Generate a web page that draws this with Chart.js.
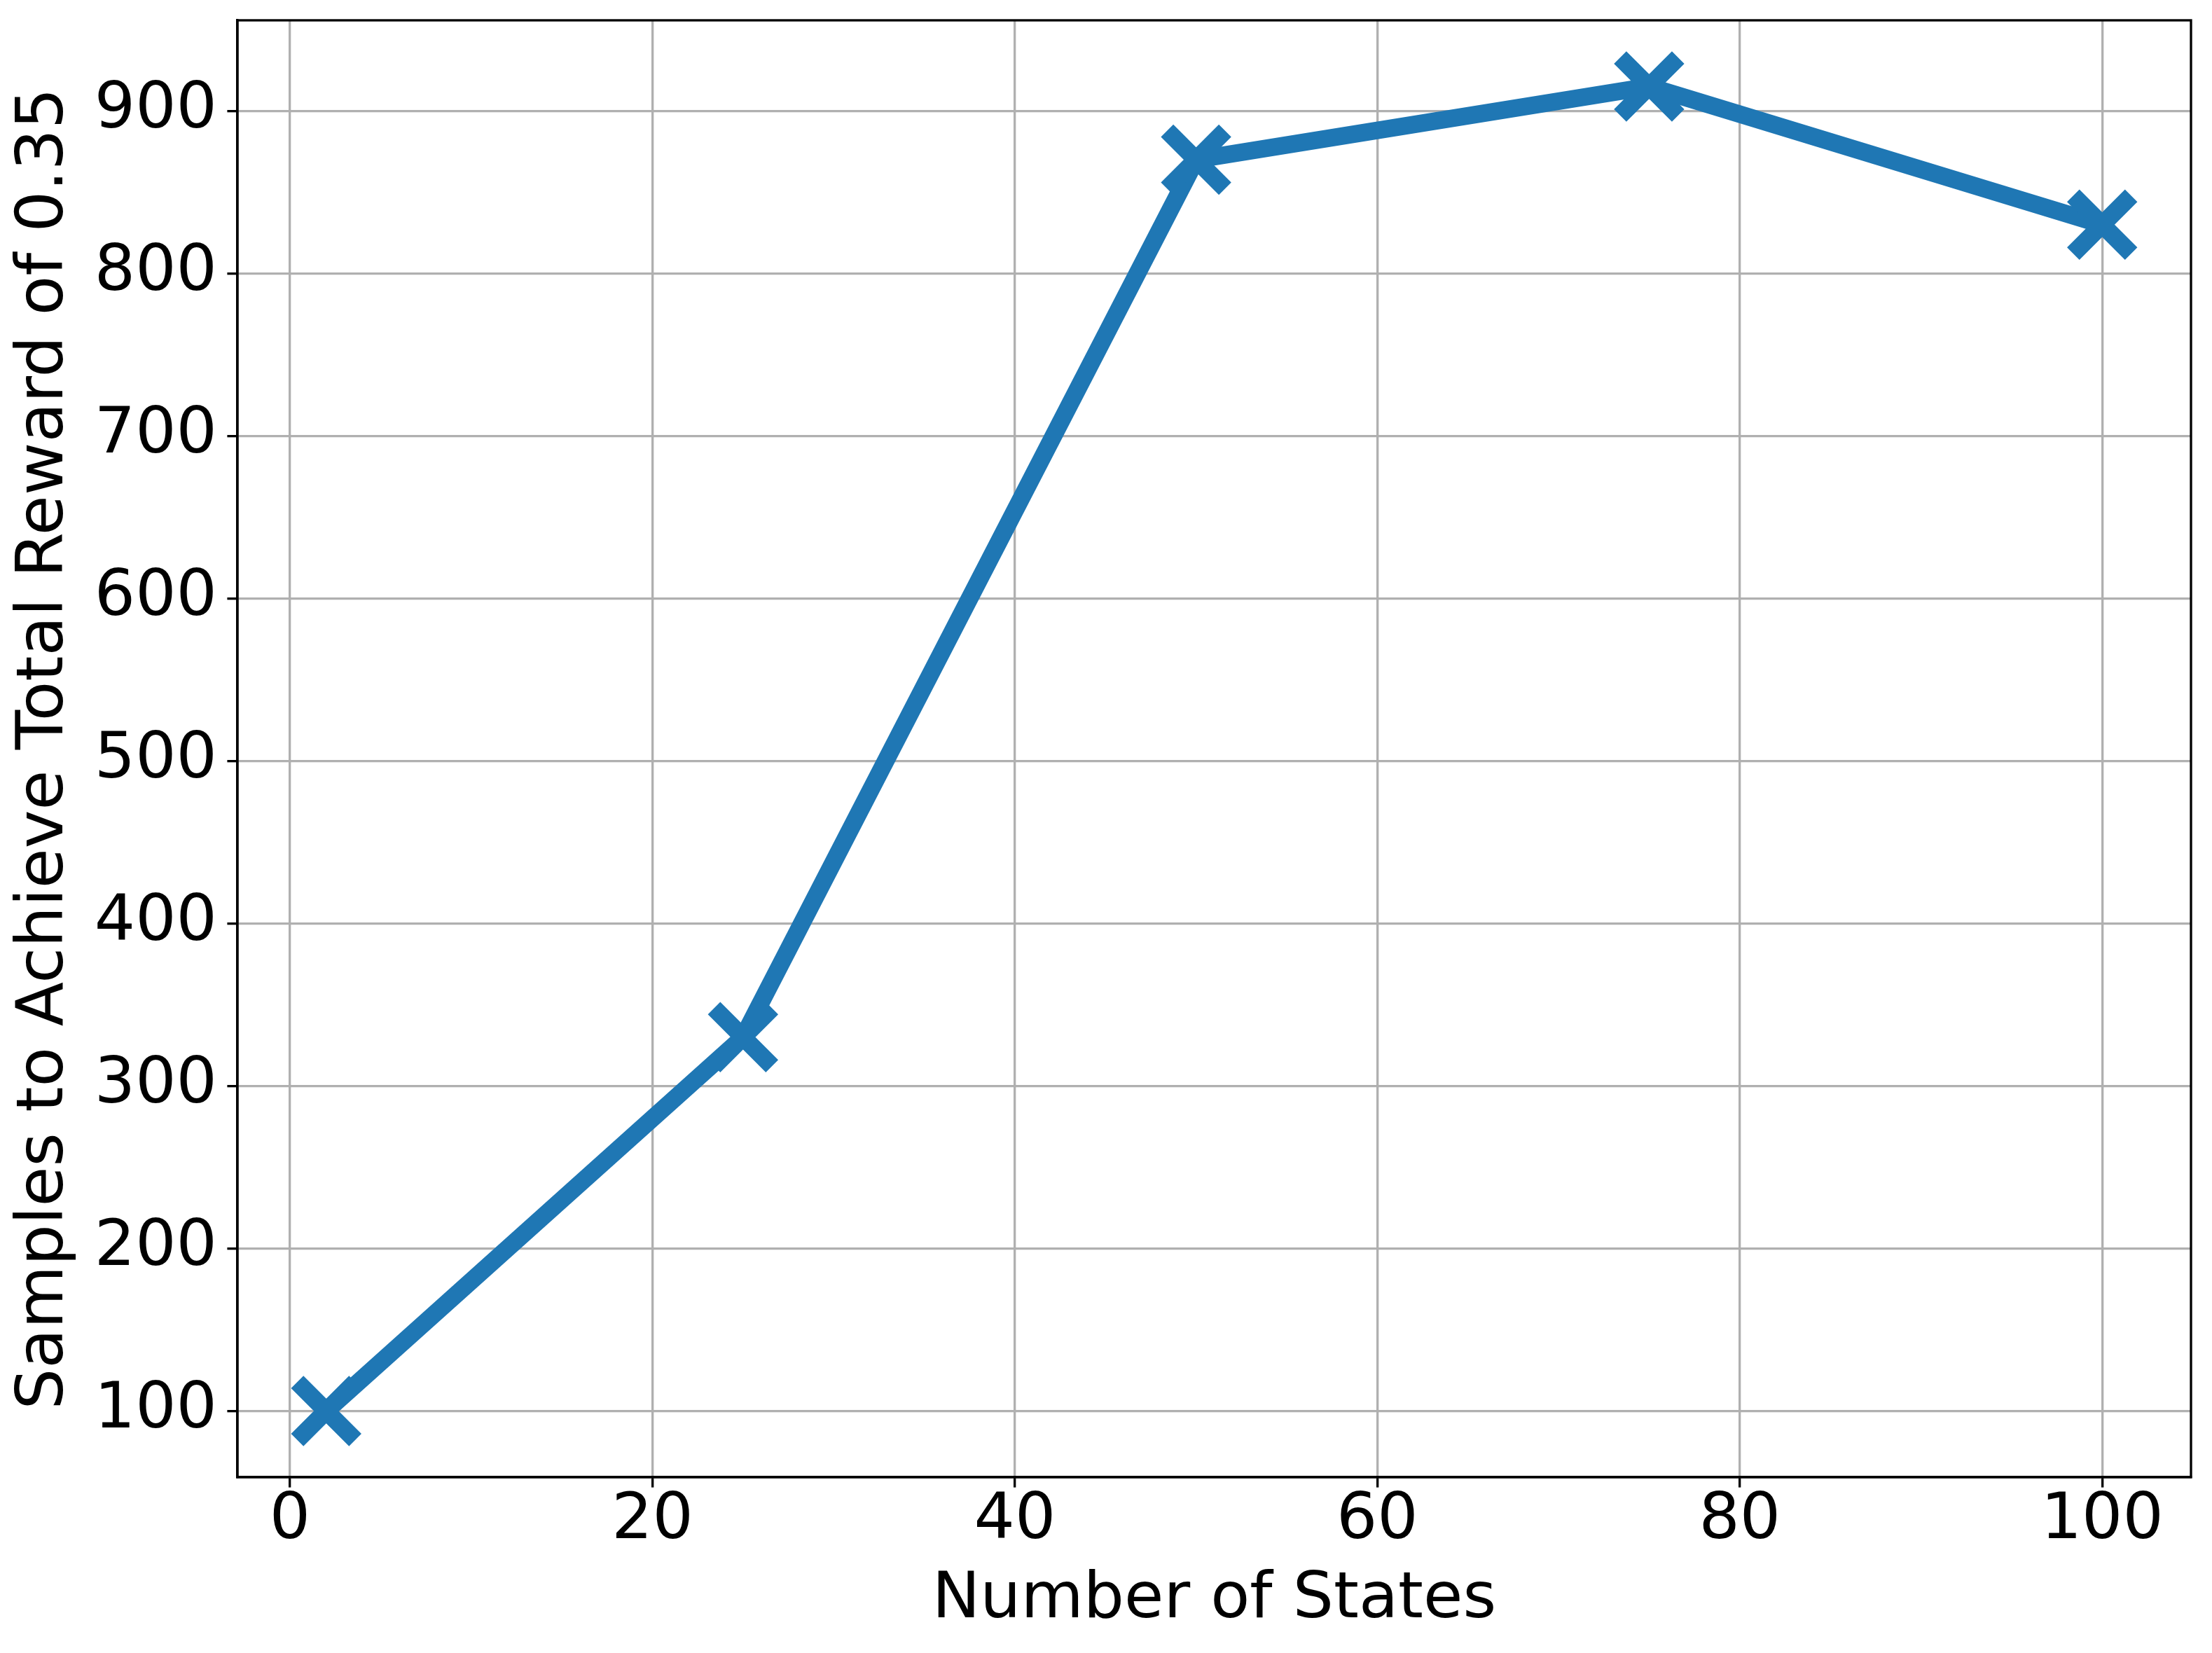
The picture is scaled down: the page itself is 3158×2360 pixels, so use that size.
<!DOCTYPE html>
<html>
<head>
<meta charset="utf-8">
<title>Samples vs Number of States</title>
<script src="https://cdn.jsdelivr.net/npm/chart.js@4/dist/chart.umd.min.js"></script>
<style>
  html, body { margin: 0; padding: 0; background: #ffffff; }
  canvas { display: block; }
</style>
</head>
<body>
<canvas id="grafik" width="3158" height="2360"></canvas>
<script>
// ====== DATA ======
const numStates = [2, 25, 50, 75, 100];
const samplesNeeded = [100, 330, 870, 915, 830];
const xTickLabels = [0, 20, 40, 60, 80, 100];
const yTickLabels = [100, 200, 300, 400, 500, 600, 700, 800, 900];

// ====== STYLE ======
const biru = "#1f77b4";
const abuGrid = "#b0b0b0";
const lebarGaris = 3.33; // 0.8pt @ 300dpi
const fontUtama = { family: "'DejaVu Sans', sans-serif", size: 91.7 };

// kotak sumbu penuh (atas & kanan juga), mirip spine matplotlib
const bingkaiPlugin = {
  id: "bingkai",
  afterDraw(chart) {
    const { ctx, chartArea: a } = chart;
    ctx.save();
    ctx.strokeStyle = "#000000";
    ctx.lineWidth = lebarGaris;
    ctx.strokeRect(a.left, a.top, a.right - a.left, a.bottom - a.top);
    ctx.restore();
  },
};

const ctx = document.getElementById("grafik").getContext("2d");
new Chart(ctx, {
  type: "line",
  data: {
    datasets: [
      {
        data: numStates.map((x, i) => ({ x, y: samplesNeeded[i] })),
        borderColor: biru,
        backgroundColor: biru,
        borderWidth: 25,
        tension: 0,
        fill: false,
        pointStyle: "crossRot",
        pointRadius: 58.5,
        pointBorderWidth: 25,
        pointBorderColor: biru,
        pointBackgroundColor: biru,
        clip: false,
      },
    ],
  },
  options: {
    responsive: false,
    devicePixelRatio: 1,
    animation: false,
    layout: {
      autoPadding: false,
      padding: { top: 29, right: 30, bottom: 0, left: 0 },
    },
    plugins: {
      legend: { display: false },
      tooltip: { enabled: false },
    },
    scales: {
      x: {
        type: "linear",
        min: -2.9,
        max: 104.9,
        afterBuildTicks: (scale) => {
          scale.ticks = xTickLabels.map((v) => ({ value: v }));
        },
        afterFit: (scale) => {
          scale.height = 251;
          scale.paddingLeft = 0;
          scale.paddingRight = 0;
        },
        grid: {
          color: abuGrid,
          lineWidth: lebarGaris,
          tickColor: "#000000",
          tickWidth: lebarGaris,
          tickLength: 14.6,
        },
        border: { color: "#000000", width: lebarGaris },
        ticks: {
          color: "#000000",
          font: { ...fontUtama, lineHeight: 1 },
          padding: 3,
          maxRotation: 0,
          autoSkip: false,
        },
        title: {
          display: true,
          text: "Number of States",
          color: "#000000",
          font: fontUtama,
          padding: { top: 0, bottom: 20 },
        },
      },
      y: {
        type: "linear",
        min: 59.25,
        max: 955.75,
        afterBuildTicks: (scale) => {
          scale.ticks = yTickLabels.map((v) => ({ value: v }));
        },
        afterFit: (scale) => {
          scale.width = 339;
          scale.paddingTop = 0;
          scale.paddingBottom = 0;
        },
        grid: {
          color: abuGrid,
          lineWidth: lebarGaris,
          tickColor: "#000000",
          tickWidth: lebarGaris,
          tickLength: 14.6,
        },
        border: { color: "#000000", width: lebarGaris },
        ticks: {
          color: "#000000",
          font: fontUtama,
          padding: 14.6,
          autoSkip: false,
        },
        title: {
          display: true,
          text: "Samples to Achieve Total Reward of 0.35",
          color: "#000000",
          font: { ...fontUtama, size: 92.6 },
          padding: { top: 9, bottom: 0 },
        },
      },
    },
  },
  plugins: [bingkaiPlugin],
});
</script>
</body>
</html>
